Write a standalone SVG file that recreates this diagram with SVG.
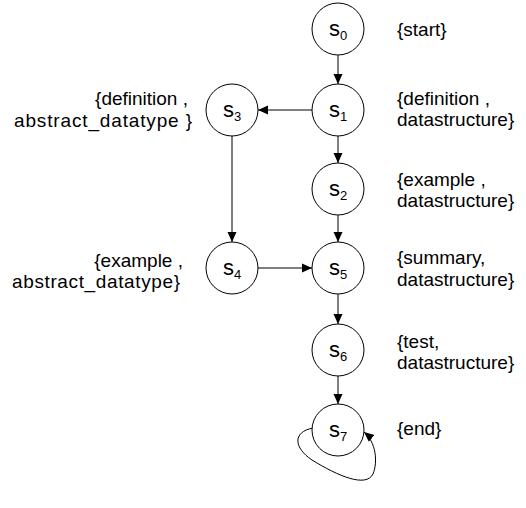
<svg xmlns="http://www.w3.org/2000/svg" width="526" height="508" viewBox="0 0 526 508">
  <defs>
    <style>
      .node circle { fill: #ffffff; stroke: #000000; stroke-width: 1; }
      .sym { font-family: "Liberation Sans", Arial, sans-serif; font-size: 22px; fill: #000; text-anchor: middle; }
      .sub { font-size: 13px; }
      .lbl { font-family: "Liberation Sans", Arial, sans-serif; font-size: 19px; fill: #000; }
      .end { text-anchor: end; }
      .edge { fill: none; stroke: #000; stroke-width: 1; marker-end: url(#arr); }
    </style>
    <marker id="arr" viewBox="0 0 10 10" refX="10" refY="5" markerWidth="10" markerHeight="10" markerUnits="userSpaceOnUse" orient="auto">
      <path d="M0,0.5 L10,5 L0,9.5 Z" fill="#000"/>
    </marker>
  </defs>

  <g id="connectors">
    <line class="edge" x1="338" y1="55" x2="338" y2="84"/>
    <line class="edge" x1="338" y1="136" x2="338" y2="163"/>
    <line class="edge" x1="338" y1="215" x2="338" y2="242"/>
    <line class="edge" x1="338" y1="294" x2="338" y2="324"/>
    <line class="edge" x1="338" y1="376" x2="338" y2="404"/>
    <line class="edge" x1="312" y1="110" x2="258" y2="110"/>
    <line class="edge" x1="232" y1="136" x2="232" y2="242"/>
    <line class="edge" x1="258" y1="268" x2="312" y2="268"/>
    <path class="edge" d="M313,428 C292,432 294,448 312,460 C338,476 366,488 373,474 C378,462 376,442 364,432"/>
  </g>

  <g id="s0" class="node">
    <circle cx="338" cy="29" r="26"/>
    <text class="sym" x="338" y="36">s<tspan class="sub" dy="4">0</tspan></text>
    <text class="lbl" x="397" y="36">{start}</text>
  </g>
  <g id="s1" class="node">
    <circle cx="338" cy="110" r="26"/>
    <text class="sym" x="338" y="117">s<tspan class="sub" dy="4">1</tspan></text>
    <text class="lbl" x="397" y="105">{definition ,</text>
    <text class="lbl" x="397" y="126">datastructure}</text>
  </g>
  <g id="s2" class="node">
    <circle cx="338" cy="189" r="26"/>
    <text class="sym" x="338" y="196">s<tspan class="sub" dy="4">2</tspan></text>
    <text class="lbl" x="397" y="186">{example ,</text>
    <text class="lbl" x="397" y="207">datastructure}</text>
  </g>
  <g id="s3" class="node">
    <circle cx="232" cy="110" r="26"/>
    <text class="sym" x="232" y="117">s<tspan class="sub" dy="4">3</tspan></text>
    <text class="lbl end" x="188" y="105">{definition ,</text>
    <text class="lbl end" x="192" y="127" textLength="178" lengthAdjust="spacing">abstract_datatype }</text>
  </g>
  <g id="s4" class="node">
    <circle cx="232" cy="268" r="26"/>
    <text class="sym" x="232" y="275">s<tspan class="sub" dy="4">4</tspan></text>
    <text class="lbl end" x="183" y="267">{example ,</text>
    <text class="lbl end" x="180" y="288" textLength="168" lengthAdjust="spacing">abstract_datatype}</text>
  </g>
  <g id="s5" class="node">
    <circle cx="338" cy="268" r="26"/>
    <text class="sym" x="338" y="275">s<tspan class="sub" dy="4">5</tspan></text>
    <text class="lbl" x="397" y="264">{summary,</text>
    <text class="lbl" x="397" y="286">datastructure}</text>
  </g>
  <g id="s6" class="node">
    <circle cx="338" cy="350" r="26"/>
    <text class="sym" x="338" y="357">s<tspan class="sub" dy="4">6</tspan></text>
    <text class="lbl" x="397" y="348">{test,</text>
    <text class="lbl" x="397" y="369">datastructure}</text>
  </g>
  <g id="s7" class="node">
    <circle cx="338" cy="430" r="26"/>
    <text class="sym" x="338" y="437">s<tspan class="sub" dy="4">7</tspan></text>
    <text class="lbl" x="397" y="435">{end}</text>
  </g>
</svg>
